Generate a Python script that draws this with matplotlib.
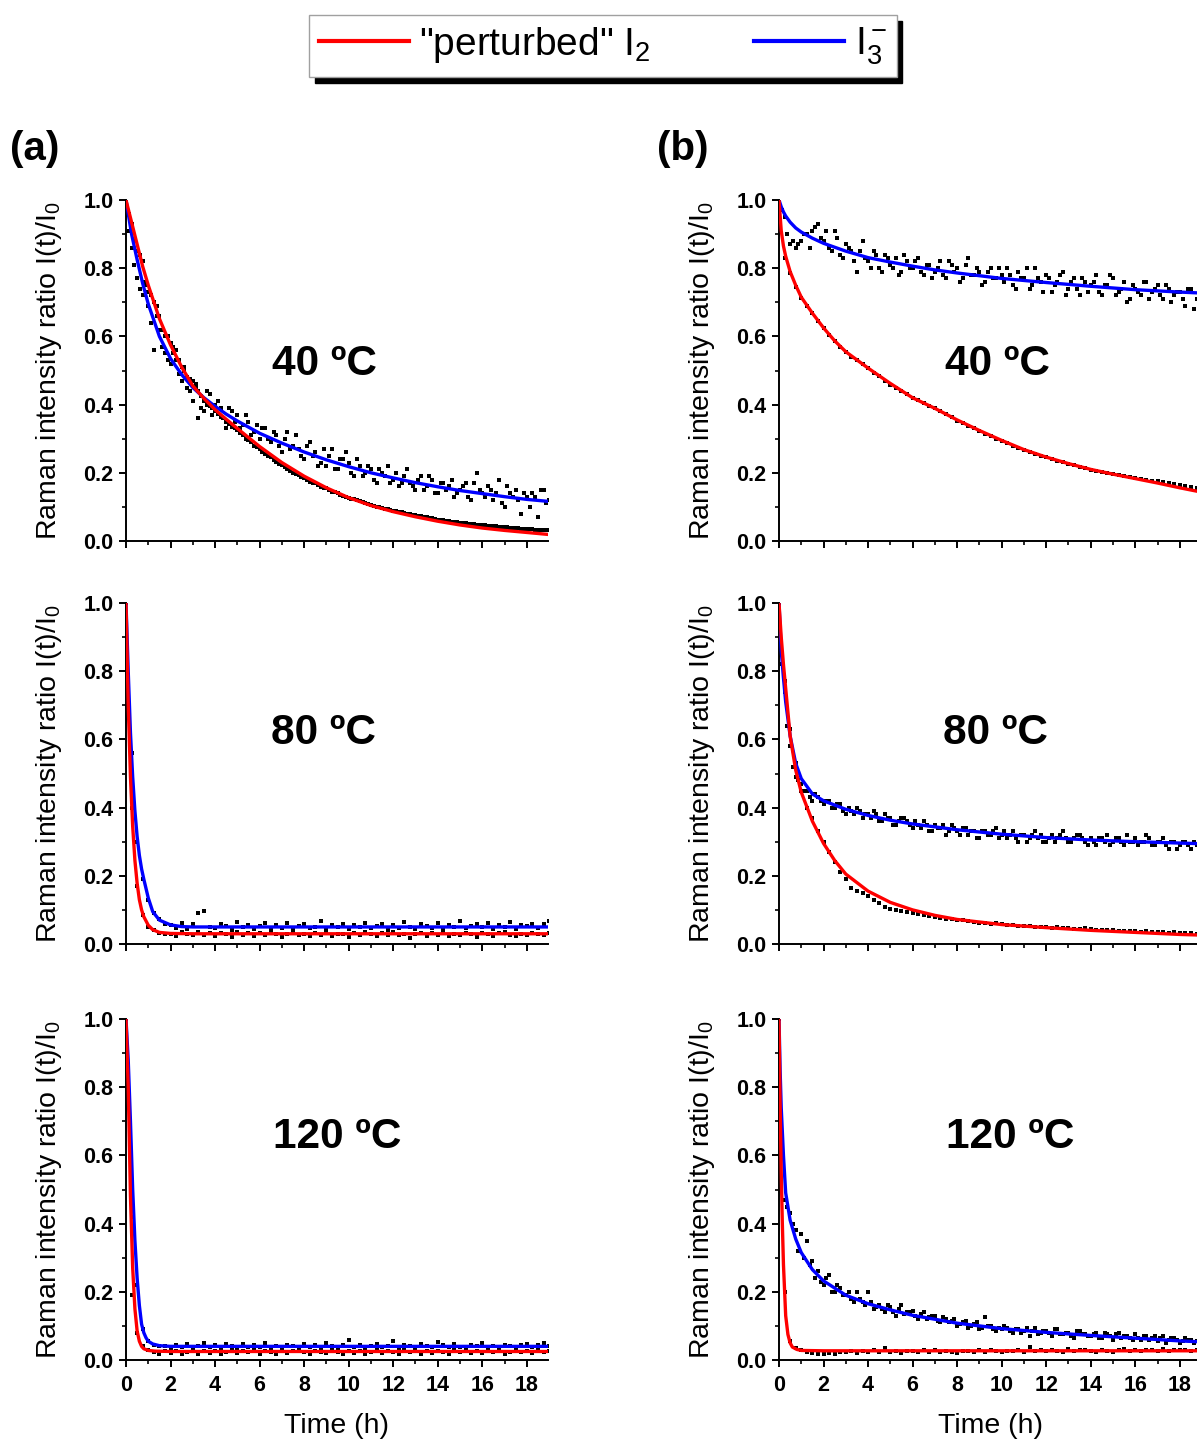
import matplotlib.pyplot as plt
from matplotlib.ticker import MultipleLocator

plt.rcParams['font.family'] = ['Liberation Sans', 'DejaVu Sans']
plt.rcParams['mathtext.fontset'] = 'custom'
plt.rcParams['mathtext.rm'] = 'Liberation Sans'
plt.rcParams['mathtext.it'] = 'Liberation Sans:italic'
plt.rcParams['mathtext.bf'] = 'Liberation Sans:bold'
plt.rcParams['mathtext.default'] = 'rm'

# sampling times of the measured points (h)
t_obs = [0, 0.25, 0.5, 0.75, 1, 1.25, 1.5, 1.75,
         2, 2.25, 2.5, 2.75, 3, 3.25, 3.5, 3.75,
         4, 4.25, 4.5, 4.75, 5, 5.25, 5.5, 5.75,
         6, 6.25, 6.5, 6.75, 7, 7.25, 7.5, 7.75,
         8, 8.25, 8.5, 8.75, 9, 9.25, 9.5, 9.75,
         10, 10.25, 10.5, 10.75, 11, 11.25, 11.5, 11.75,
         12, 12.25, 12.5, 12.75, 13, 13.25, 13.5, 13.75,
         14, 14.25, 14.5, 14.75, 15, 15.25, 15.5, 15.75,
         16, 16.25, 16.5, 16.75, 17, 17.25, 17.5, 17.75,
         18, 18.25, 18.5, 18.75, 19]
# in-between sampling times for the denser series
t_mid = [0.125, 0.375, 0.625, 0.875, 1.125, 1.375, 1.625, 1.875,
         2.125, 2.375, 2.625, 2.875, 3.125, 3.375, 3.625, 3.875,
         4.125, 4.375, 4.625, 4.875, 5.125, 5.375, 5.625, 5.875,
         6.125, 6.375, 6.625, 6.875, 7.125, 7.375, 7.625, 7.875,
         8.125, 8.375, 8.625, 8.875, 9.125, 9.375, 9.625, 9.875,
         10.125, 10.375, 10.625, 10.875, 11.125, 11.375, 11.625, 11.875,
         12.125, 12.375, 12.625, 12.875, 13.125, 13.375, 13.625, 13.875,
         14.125, 14.375, 14.625, 14.875, 15.125, 15.375, 15.625, 15.875,
         16.125, 16.375, 16.625, 16.875, 17.125, 17.375, 17.625, 17.875,
         18.125, 18.375, 18.625, 18.875]

# ---- column (a): measured I(t)/I0 ----
a40_i2 = [1.00, 0.93, 0.85, 0.82, 0.73, 0.70, 0.66, 0.60,
          0.58, 0.56, 0.51, 0.48, 0.47, 0.44, 0.41, 0.395,
          0.38, 0.365, 0.35, 0.335, 0.325, 0.31, 0.295, 0.28,
          0.27, 0.255, 0.245, 0.232, 0.222, 0.212, 0.20, 0.194,
          0.185, 0.172, 0.17, 0.158, 0.155, 0.145, 0.141, 0.131,
          0.127, 0.122, 0.116, 0.111, 0.106, 0.101, 0.097, 0.093,
          0.089, 0.086, 0.082, 0.079, 0.075, 0.072, 0.069, 0.066,
          0.063, 0.061, 0.058, 0.056, 0.054, 0.052, 0.05, 0.048,
          0.047, 0.045, 0.043, 0.042, 0.04, 0.039, 0.037, 0.036,
          0.035, 0.034, 0.033, 0.032, 0.032]
a40_i2_mid = [0.96, 0.88, 0.84, 0.76, 0.72, 0.69, 0.62, 0.60,
              0.57, 0.53, 0.50, 0.475, 0.45, 0.425, 0.40, 0.39,
              0.372, 0.36, 0.342, 0.33, 0.318, 0.30, 0.29, 0.276,
              0.262, 0.25, 0.238, 0.227, 0.216, 0.206, 0.197, 0.189,
              0.18, 0.171, 0.163, 0.156, 0.15, 0.143, 0.136, 0.13,
              0.124, 0.119, 0.113, 0.108, 0.103, 0.099, 0.095, 0.091,
              0.087, 0.084, 0.08, 0.077, 0.074, 0.07, 0.067, 0.065,
              0.062, 0.059, 0.057, 0.055, 0.053, 0.051, 0.049, 0.048,
              0.046, 0.044, 0.043, 0.041, 0.04, 0.038, 0.037, 0.036,
              0.035, 0.033, 0.033, 0.031]
a40_i3 = [1.00, 0.86, 0.77, 0.72, 0.69, 0.56, 0.62, 0.55,
          0.52, 0.53, 0.47, 0.45, 0.41, 0.36, 0.38, 0.43,
          0.40, 0.39, 0.33, 0.38, 0.37, 0.34, 0.35, 0.32,
          0.30, 0.33, 0.29, 0.31, 0.26, 0.32, 0.28, 0.27,
          0.24, 0.29, 0.26, 0.23, 0.22, 0.27, 0.21, 0.24,
          0.23, 0.19, 0.22, 0.20, 0.21, 0.17, 0.20, 0.22,
          0.18, 0.16, 0.19, 0.17, 0.15, 0.19, 0.16, 0.18,
          0.14, 0.17, 0.16, 0.13, 0.15, 0.17, 0.12, 0.20,
          0.14, 0.16, 0.12, 0.18, 0.10, 0.14, 0.15, 0.08,
          0.13, 0.14, 0.07, 0.15, 0.12]
a40_i3_mid = [0.91, 0.81, 0.74, 0.75, 0.64, 0.66, 0.57, 0.53,
              0.55, 0.49, 0.51, 0.44, 0.46, 0.39, 0.44, 0.37,
              0.41, 0.36, 0.39, 0.35, 0.33, 0.37, 0.31, 0.34,
              0.33, 0.30, 0.32, 0.28, 0.30, 0.27, 0.31, 0.25,
              0.28, 0.25, 0.22, 0.27, 0.25, 0.21, 0.24, 0.26,
              0.20, 0.24, 0.19, 0.22, 0.18, 0.21, 0.19, 0.17,
              0.20, 0.17, 0.21, 0.16, 0.18, 0.15, 0.19, 0.14,
              0.17, 0.15, 0.18, 0.14, 0.16, 0.13, 0.17, 0.15,
              0.13, 0.15, 0.14, 0.11, 0.16, 0.13, 0.12, 0.14,
              0.10, 0.13, 0.15, 0.11]
a80_i2 = [1.00, 0.40, 0.17, 0.085, 0.05, 0.04, 0.033, 0.03,
          0.028, 0.022, 0.034, 0.03, 0.025, 0.036, 0.027, 0.031,
          0.024, 0.033, 0.029, 0.02, 0.035, 0.027, 0.031, 0.023,
          0.032, 0.026, 0.038, 0.028, 0.021, 0.03, 0.034, 0.025,
          0.029, 0.022, 0.033, 0.027, 0.036, 0.024, 0.03, 0.028,
          0.02, 0.031, 0.026, 0.035, 0.029, 0.023, 0.032, 0.027,
          0.034, 0.025, 0.03, 0.019, 0.028, 0.033, 0.024, 0.031,
          0.027, 0.036, 0.022, 0.03, 0.026, 0.032, 0.029, 0.021,
          0.033, 0.028, 0.024, 0.031, 0.036, 0.027, 0.022, 0.03,
          0.026, 0.032, 0.029, 0.025, 0.031]
a80_i3 = [1.00, 0.56, 0.30, 0.19, 0.13, 0.09, 0.072, 0.06,
          0.055, 0.048, 0.062, 0.044, 0.058, 0.092, 0.097, 0.05,
          0.046, 0.06, 0.053, 0.041, 0.065, 0.049, 0.057, 0.043,
          0.052, 0.061, 0.045, 0.056, 0.048, 0.063, 0.042, 0.054,
          0.059, 0.047, 0.051, 0.066, 0.044, 0.055, 0.049, 0.06,
          0.043, 0.057, 0.05, 0.062, 0.046, 0.053, 0.058, 0.041,
          0.056, 0.048, 0.064, 0.051, 0.045, 0.059, 0.052, 0.047,
          0.061, 0.044, 0.055, 0.05, 0.067, 0.046, 0.053, 0.058,
          0.049, 0.062, 0.045, 0.056, 0.051, 0.064, 0.043, 0.057,
          0.052, 0.06, 0.047, 0.058, 0.066]
a120_i2 = [1.00, 0.19, 0.08, 0.04, 0.028, 0.022, 0.018, 0.025,
           0.02, 0.027, 0.017, 0.023, 0.029, 0.019, 0.025, 0.021,
           0.026, 0.018, 0.024, 0.03, 0.02, 0.025, 0.022, 0.028,
           0.019, 0.026, 0.023, 0.017, 0.027, 0.021, 0.025, 0.029,
           0.022, 0.018, 0.026, 0.024, 0.02, 0.028, 0.023, 0.019,
           0.027, 0.021, 0.025, 0.018, 0.024, 0.029, 0.02, 0.026,
           0.023, 0.019, 0.028, 0.022, 0.025, 0.018, 0.027, 0.021,
           0.026, 0.024, 0.019, 0.028, 0.022, 0.025, 0.02, 0.027,
           0.021, 0.026, 0.023, 0.029, 0.019, 0.024, 0.027, 0.022,
           0.025, 0.02, 0.028, 0.023, 0.026]
a120_i3 = [1.00, 0.42, 0.22, 0.09, 0.055, 0.045, 0.042, 0.04,
           0.036, 0.044, 0.039, 0.047, 0.033, 0.041, 0.05, 0.037,
           0.043, 0.035, 0.046, 0.04, 0.032, 0.048, 0.038, 0.044,
           0.039, 0.051, 0.034, 0.042, 0.037, 0.045, 0.041, 0.036,
           0.047, 0.038, 0.043, 0.034, 0.049, 0.04, 0.036, 0.045,
           0.058, 0.039, 0.044, 0.035, 0.042, 0.048, 0.037, 0.041,
           0.055, 0.036, 0.045, 0.04, 0.034, 0.047, 0.041, 0.038,
           0.052, 0.043, 0.037, 0.046, 0.039, 0.035, 0.044, 0.04,
           0.049, 0.036, 0.042, 0.038, 0.045, 0.041, 0.035, 0.043,
           0.047, 0.039, 0.044, 0.05, 0.042]

# ---- column (b): measured I(t)/I0 ----
b40_i2 = [1.00, 0.83, 0.785, 0.745, 0.712, 0.688, 0.668, 0.645,
          0.624, 0.603, 0.586, 0.569, 0.555, 0.541, 0.53, 0.52,
          0.508, 0.494, 0.484, 0.47, 0.458, 0.449, 0.441, 0.43,
          0.42, 0.413, 0.406, 0.397, 0.389, 0.38, 0.371, 0.363,
          0.353, 0.346, 0.338, 0.33, 0.322, 0.315, 0.309, 0.3,
          0.293, 0.287, 0.279, 0.273, 0.267, 0.261, 0.256, 0.25,
          0.245, 0.24, 0.236, 0.231, 0.226, 0.222, 0.218, 0.213,
          0.209, 0.206, 0.202, 0.199, 0.197, 0.194, 0.19, 0.188,
          0.186, 0.183, 0.18, 0.177, 0.175, 0.172, 0.17, 0.167,
          0.164, 0.161, 0.158, 0.155, 0.152]
b40_i3 = [1.00, 0.95, 0.87, 0.86, 0.88, 0.90, 0.91, 0.93,
          0.88, 0.86, 0.91, 0.84, 0.87, 0.85, 0.79, 0.88,
          0.82, 0.85, 0.80, 0.84, 0.81, 0.83, 0.79, 0.82,
          0.80, 0.83, 0.78, 0.81, 0.79, 0.82, 0.77, 0.81,
          0.80, 0.77, 0.83, 0.78, 0.79, 0.76, 0.80, 0.77,
          0.78, 0.80, 0.75, 0.79, 0.77, 0.74, 0.80, 0.76,
          0.78, 0.73, 0.76, 0.79, 0.74, 0.77, 0.72, 0.76,
          0.75, 0.78, 0.72, 0.75, 0.77, 0.73, 0.76, 0.71,
          0.74, 0.72, 0.76, 0.73, 0.75, 0.71, 0.74, 0.72,
          0.73, 0.69, 0.74, 0.71, 0.70]
b40_i3_mid = [0.97, 0.90, 0.88, 0.87, 0.90, 0.86, 0.92, 0.89,
              0.91, 0.85, 0.89, 0.83, 0.86, 0.82, 0.85, 0.83,
              0.80, 0.84, 0.79, 0.83, 0.80, 0.78, 0.84, 0.80,
              0.82, 0.79, 0.81, 0.77, 0.80, 0.78, 0.82, 0.79,
              0.76, 0.81, 0.78, 0.80, 0.75, 0.79, 0.77, 0.80,
              0.76, 0.78, 0.74, 0.77, 0.80, 0.75, 0.77, 0.73,
              0.77, 0.75, 0.78, 0.72, 0.76, 0.74, 0.77, 0.73,
              0.76, 0.73, 0.75, 0.78, 0.72, 0.74, 0.70, 0.75,
              0.73, 0.76, 0.71, 0.74, 0.72, 0.75, 0.70, 0.73,
              0.71, 0.74, 0.68, 0.72]
b80_i2 = [1.00, 0.77, 0.63, 0.53, 0.45, 0.40, 0.37, 0.33,
          0.30, 0.27, 0.24, 0.21, 0.19, 0.165, 0.155, 0.15,
          0.14, 0.13, 0.12, 0.108, 0.104, 0.10, 0.097, 0.093,
          0.09, 0.088, 0.085, 0.082, 0.079, 0.076, 0.074, 0.072,
          0.07, 0.069, 0.066, 0.065, 0.063, 0.062, 0.06, 0.061,
          0.058, 0.056, 0.057, 0.054, 0.053, 0.052, 0.05, 0.051,
          0.049, 0.048, 0.05, 0.046, 0.047, 0.045, 0.044, 0.046,
          0.043, 0.042, 0.041, 0.04, 0.041, 0.038, 0.039, 0.037,
          0.038, 0.036, 0.037, 0.035, 0.036, 0.034, 0.033, 0.034,
          0.032, 0.033, 0.031, 0.03, 0.032]
b80_i3 = [1.00, 0.74, 0.58, 0.49, 0.47, 0.45, 0.42, 0.43,
          0.41, 0.42, 0.40, 0.41, 0.38, 0.39, 0.40, 0.37,
          0.38, 0.39, 0.36, 0.38, 0.37, 0.35, 0.37, 0.36,
          0.34, 0.35, 0.36, 0.33, 0.35, 0.34, 0.32, 0.35,
          0.33, 0.34, 0.32, 0.33, 0.31, 0.33, 0.32, 0.34,
          0.32, 0.31, 0.33, 0.30, 0.32, 0.31, 0.33, 0.32,
          0.30, 0.32, 0.31, 0.33, 0.30, 0.31, 0.32, 0.30,
          0.31, 0.29, 0.31, 0.32, 0.30, 0.31, 0.29, 0.30,
          0.31, 0.30, 0.32, 0.29, 0.30, 0.31, 0.28, 0.30,
          0.29, 0.30, 0.28, 0.29, 0.30]
b80_i3_mid = [0.82, 0.64, 0.52, 0.48, 0.45, 0.43, 0.44, 0.42,
              0.42, 0.40, 0.41, 0.39, 0.40, 0.38, 0.39, 0.38,
              0.37, 0.38, 0.36, 0.37, 0.35, 0.36, 0.37, 0.35,
              0.36, 0.34, 0.35, 0.33, 0.34, 0.35, 0.33, 0.34,
              0.32, 0.34, 0.33, 0.31, 0.33, 0.32, 0.33, 0.31,
              0.33, 0.32, 0.31, 0.32, 0.30, 0.32, 0.31, 0.30,
              0.31, 0.30, 0.32, 0.31, 0.30, 0.32, 0.31, 0.29,
              0.30, 0.31, 0.30, 0.29, 0.31, 0.30, 0.32, 0.30,
              0.29, 0.30, 0.31, 0.29, 0.30, 0.29, 0.30, 0.28,
              0.30, 0.29, 0.30, 0.28]
b120_i2 = [1.00, 0.20, 0.055, 0.035, 0.028, 0.024, 0.02, 0.018,
           0.017, 0.021, 0.019, 0.024, 0.022, 0.027, 0.021, 0.025,
           0.023, 0.028, 0.022, 0.035, 0.024, 0.026, 0.021, 0.027,
           0.025, 0.022, 0.028, 0.024, 0.029, 0.023, 0.026, 0.022,
           0.02, 0.027, 0.025, 0.023, 0.028, 0.024, 0.03, 0.026,
           0.023, 0.027, 0.025, 0.03, 0.024, 0.037, 0.026, 0.028,
           0.025, 0.029, 0.027, 0.024, 0.031, 0.026, 0.028, 0.03,
           0.027, 0.023, 0.029, 0.026, 0.024, 0.028, 0.031, 0.027,
           0.029, 0.026, 0.03, 0.028, 0.025, 0.031, 0.027, 0.029,
           0.028, 0.03, 0.026, 0.029, 0.027]
b120_i3 = [1.00, 0.47, 0.43, 0.38, 0.37, 0.35, 0.29, 0.26,
           0.22, 0.25, 0.20, 0.21, 0.19, 0.18, 0.20, 0.17,
           0.20, 0.15, 0.16, 0.14, 0.155, 0.13, 0.16, 0.14,
           0.145, 0.12, 0.14, 0.125, 0.13, 0.11, 0.12, 0.115,
           0.10, 0.11, 0.095, 0.105, 0.09, 0.125, 0.10, 0.085,
           0.09, 0.095, 0.08, 0.09, 0.085, 0.07, 0.095, 0.08,
           0.085, 0.07, 0.09, 0.075, 0.08, 0.065, 0.085, 0.075,
           0.07, 0.08, 0.065, 0.075, 0.06, 0.08, 0.07, 0.065,
           0.075, 0.06, 0.07, 0.065, 0.055, 0.07, 0.06, 0.065,
           0.05, 0.065, 0.06, 0.055, 0.06]
b120_i3_mid = [0.66, 0.45, 0.40, 0.32, 0.30, 0.28, 0.24, 0.23,
               0.24, 0.20, 0.22, 0.19, 0.20, 0.17, 0.18, 0.16,
               0.17, 0.155, 0.15, 0.16, 0.14, 0.15, 0.135, 0.14,
               0.13, 0.135, 0.12, 0.13, 0.115, 0.125, 0.11, 0.12,
               0.105, 0.115, 0.10, 0.11, 0.095, 0.10, 0.09, 0.095,
               0.10, 0.085, 0.09, 0.08, 0.095, 0.085, 0.075, 0.085,
               0.08, 0.09, 0.075, 0.08, 0.07, 0.085, 0.075, 0.07,
               0.075, 0.065, 0.08, 0.07, 0.075, 0.065, 0.07, 0.06,
               0.065, 0.07, 0.06, 0.07, 0.065, 0.05, 0.065, 0.06,
               0.055, 0.06, 0.05, 0.06]

# ---- fitted curves (time, value) ----
a40_i2_fit_t = [0, 0.25, 0.5, 0.75, 1, 1.5, 2, 2.5, 3, 3.5, 4, 4.5, 5, 6, 7, 8, 9, 10, 11, 12, 13, 14, 15, 16, 17, 18, 19]
a40_i2_fit = [1.0, 0.935, 0.87, 0.805, 0.75, 0.652, 0.575, 0.51, 0.455, 0.418, 0.385, 0.357, 0.33, 0.277, 0.23,
              0.19, 0.156, 0.127, 0.104, 0.086, 0.071, 0.058, 0.047, 0.038, 0.031, 0.025, 0.019]
a40_i3_fit_t = [0, 0.25, 0.5, 0.75, 1, 1.5, 2, 2.5, 3, 3.5, 4, 4.5, 5, 6, 7, 8, 9, 10, 11, 12, 13, 14, 15, 16, 17, 18, 19]
a40_i3_fit = [1.0, 0.9, 0.825, 0.755, 0.695, 0.6, 0.535, 0.488, 0.45, 0.42, 0.395, 0.372, 0.352, 0.316, 0.287,
              0.261, 0.238, 0.218, 0.2, 0.185, 0.171, 0.159, 0.148, 0.139, 0.13, 0.122, 0.116]
a80_i2_fit_t = [0, 0.1, 0.2, 0.3, 0.4, 0.5, 0.6, 0.7, 0.8, 1.0, 1.2, 1.5, 2, 3, 19]
a80_i2_fit = [1.0, 0.7, 0.49, 0.345, 0.245, 0.178, 0.13, 0.1, 0.08, 0.055, 0.042, 0.034, 0.031, 0.03, 0.03]
a80_i3_fit_t = [0, 0.1, 0.2, 0.3, 0.4, 0.5, 0.6, 0.7, 0.8, 1.0, 1.2, 1.5, 2, 2.5, 3, 19]
a80_i3_fit = [1.0, 0.8, 0.62, 0.49, 0.39, 0.315, 0.26, 0.22, 0.19, 0.135, 0.095, 0.07, 0.056, 0.051, 0.05, 0.05]
a120_i2_fit_t = [0, 0.1, 0.2, 0.3, 0.4, 0.5, 0.6, 0.7, 0.8, 1.0, 1.3, 2, 19]
a120_i2_fit = [1.0, 0.8, 0.48, 0.27, 0.15, 0.085, 0.055, 0.04, 0.033, 0.028, 0.026, 0.025, 0.025]
a120_i3_fit_t = [0, 0.1, 0.2, 0.3, 0.4, 0.5, 0.6, 0.7, 0.8, 0.9, 1.0, 1.2, 1.5, 2, 19]
a120_i3_fit = [1.0, 0.88, 0.7, 0.5, 0.35, 0.24, 0.16, 0.105, 0.08, 0.065, 0.055, 0.047, 0.042, 0.04, 0.04]

b40_i2_fit_t = [0, 0.1, 0.2, 0.3, 0.5, 0.75, 1, 1.5, 2, 2.5, 3, 4, 5, 6, 7, 8, 9, 10, 11, 12, 13, 14, 15, 16, 17, 18, 19]
b40_i2_fit = [1.0, 0.91, 0.865, 0.835, 0.79, 0.75, 0.715, 0.668, 0.625, 0.587, 0.555, 0.507, 0.462, 0.42, 0.389,
              0.355, 0.324, 0.295, 0.268, 0.246, 0.227, 0.21, 0.196, 0.183, 0.17, 0.156, 0.143]
b40_i3_fit_t = [0, 0.1, 0.2, 0.3, 0.5, 0.75, 1, 1.5, 2, 3, 4, 5, 6, 7, 8, 9, 10, 12, 14, 16, 18, 19]
b40_i3_fit = [1.0, 0.98, 0.965, 0.953, 0.935, 0.918, 0.906, 0.888, 0.873, 0.85, 0.831, 0.818, 0.806, 0.795,
              0.786, 0.778, 0.77, 0.758, 0.747, 0.737, 0.73, 0.727]
b80_i2_fit_t = [0, 0.1, 0.2, 0.3, 0.5, 0.75, 1, 1.5, 2, 2.5, 3, 4, 5, 6, 7, 8, 10, 12, 14, 16, 18, 19]
b80_i2_fit = [1.0, 0.9, 0.82, 0.75, 0.61, 0.51, 0.445, 0.36, 0.295, 0.245, 0.205, 0.155, 0.122, 0.1, 0.084,
              0.072, 0.057, 0.048, 0.04, 0.034, 0.028, 0.026]
b80_i3_fit_t = [0, 0.1, 0.2, 0.3, 0.5, 0.75, 1, 1.5, 2, 3, 4, 5, 6, 8, 10, 12, 14, 16, 18, 19]
b80_i3_fit = [1.0, 0.86, 0.78, 0.71, 0.61, 0.53, 0.485, 0.44, 0.42, 0.395, 0.377, 0.363, 0.352, 0.335, 0.322,
              0.312, 0.305, 0.3, 0.296, 0.294]
b120_i2_fit_t = [0, 0.05, 0.1, 0.15, 0.2, 0.3, 0.4, 0.5, 0.6, 0.8, 1, 2, 19]
b120_i2_fit = [1.0, 0.75, 0.55, 0.4, 0.28, 0.13, 0.075, 0.05, 0.038, 0.031, 0.028, 0.027, 0.027]
b120_i3_fit_t = [0, 0.05, 0.1, 0.2, 0.3, 0.5, 0.75, 1, 1.5, 2, 3, 4, 5, 6, 8, 10, 12, 14, 16, 18, 19]
b120_i3_fit = [1.0, 0.85, 0.74, 0.6, 0.49, 0.41, 0.355, 0.315, 0.265, 0.232, 0.19, 0.165, 0.147, 0.131, 0.108,
               0.092, 0.081, 0.072, 0.064, 0.056, 0.053]

temps = ['40 ºC', '80 ºC', '120 ºC']

W, H = 1197, 1439
fig = plt.figure(figsize=(W / 100, H / 100), dpi=100)

col_left = [126, 779]
ax_w = 422
row_top = [200, 603, 1019]
ax_h = 341

# (row, col, measured series, fit_i2_t, fit_i2, fit_i3_t, fit_i3, label position in axes coords)
panels = [
    (0, 0, [(t_obs, a40_i2), (t_mid, a40_i2_mid), (t_obs, a40_i3), (t_mid, a40_i3_mid)],
     a40_i2_fit_t, a40_i2_fit, a40_i3_fit_t, a40_i3_fit, (0.47, 0.52)),
    (1, 0, [(t_obs, a80_i2), (t_obs, a80_i3)],
     a80_i2_fit_t, a80_i2_fit, a80_i3_fit_t, a80_i3_fit, (0.467, 0.62)),
    (2, 0, [(t_obs, a120_i2), (t_obs, a120_i3)],
     a120_i2_fit_t, a120_i2_fit, a120_i3_fit_t, a120_i3_fit, (0.5, 0.654)),
    (0, 1, [(t_obs, b40_i2), (t_obs, b40_i3), (t_mid, b40_i3_mid)],
     b40_i2_fit_t, b40_i2_fit, b40_i3_fit_t, b40_i3_fit, (0.517, 0.52)),
    (1, 1, [(t_obs, b80_i2), (t_obs, b80_i3), (t_mid, b80_i3_mid)],
     b80_i2_fit_t, b80_i2_fit, b80_i3_fit_t, b80_i3_fit, (0.514, 0.62)),
    (2, 1, [(t_obs, b120_i2), (t_obs, b120_i3), (t_mid, b120_i3_mid)],
     b120_i2_fit_t, b120_i2_fit, b120_i3_fit_t, b120_i3_fit, (0.547, 0.654)),
]

handles = None
for row, col, measured, ft2, f2, ft3, f3, txy in panels:
    ax = fig.add_axes([col_left[col] / W, 1 - (row_top[row] + ax_h) / H, ax_w / W, ax_h / H])
    for tt, yy in measured:
        ax.plot(tt, yy, 's', color='black', ms=2.8, mew=0, zorder=2)
    l3, = ax.plot(ft3, f3, color='#0000ff', lw=2.4, zorder=3)
    l2, = ax.plot(ft2, f2, color='#ff0000', lw=2.4, zorder=4)
    if handles is None:
        handles = [l2, l3]

    ax.set_xlim(0, 18.95)
    ax.set_ylim(0, 1.0)
    for s in ['top', 'right']:
        ax.spines[s].set_visible(False)
    for s in ['left', 'bottom']:
        ax.spines[s].set_linewidth(1.4)

    ax.xaxis.set_major_locator(MultipleLocator(2))
    ax.xaxis.set_minor_locator(MultipleLocator(1))
    ax.yaxis.set_major_locator(MultipleLocator(0.2))
    ax.yaxis.set_minor_locator(MultipleLocator(0.1))
    ax.tick_params(which='major', direction='out', length=5, width=1.4, labelsize=15.5, pad=4)
    ax.tick_params(which='minor', direction='out', length=2.8, width=1.2)
    ax.tick_params(axis='x', pad=6)
    ax.set_yticks([0, 0.2, 0.4, 0.6, 0.8, 1.0],
                  labels=['0.0', '0.2', '0.4', '0.6', '0.8', '1.0'], fontweight='bold')
    if row == 2:
        ax.set_xticks(range(0, 19, 2), labels=[str(v) for v in range(0, 19, 2)], fontweight='bold')
        ax.set_xlabel('Time (h)', fontsize=20.5)
        ax.xaxis.set_label_coords(0.5, -0.155)
    else:
        ax.tick_params(axis='x', labelbottom=False)

    ax.set_ylabel('Raman intensity ratio I(t)/I$_0$', fontsize=20.5)
    ax.yaxis.set_label_coords(-0.146, 0.5)
    ax.text(txy[0], txy[1], temps[row], transform=ax.transAxes, ha='center', va='center',
            fontsize=30.5, fontweight='bold')

fig.text(10 / W, 1 - 149 / H, '(a)', fontsize=29, fontweight='bold', ha='left', va='center')
fig.text(657 / W, 1 - 149 / H, '(b)', fontsize=29, fontweight='bold', ha='left', va='center')

leg = fig.legend(handles, ['"perturbed" I$_2$', 'I$_3^-$'], ncol=2, loc='upper center',
                 bbox_to_anchor=(603 / W, 1 - 15 / H), borderaxespad=0, fontsize=28, frameon=True,
                 fancybox=False, framealpha=1, edgecolor='#a0a0a0', borderpad=0.25, handlelength=2.3,
                 handletextpad=0.28, columnspacing=2.65,
                 shadow={'ox': 4, 'oy': -4, 'facecolor': 'black', 'edgecolor': 'black', 'alpha': 1})
leg.get_frame().set_linewidth(1.0)
for ln in leg.get_lines():
    ln.set_linewidth(3)

fig.savefig('out.png', dpi=100)
